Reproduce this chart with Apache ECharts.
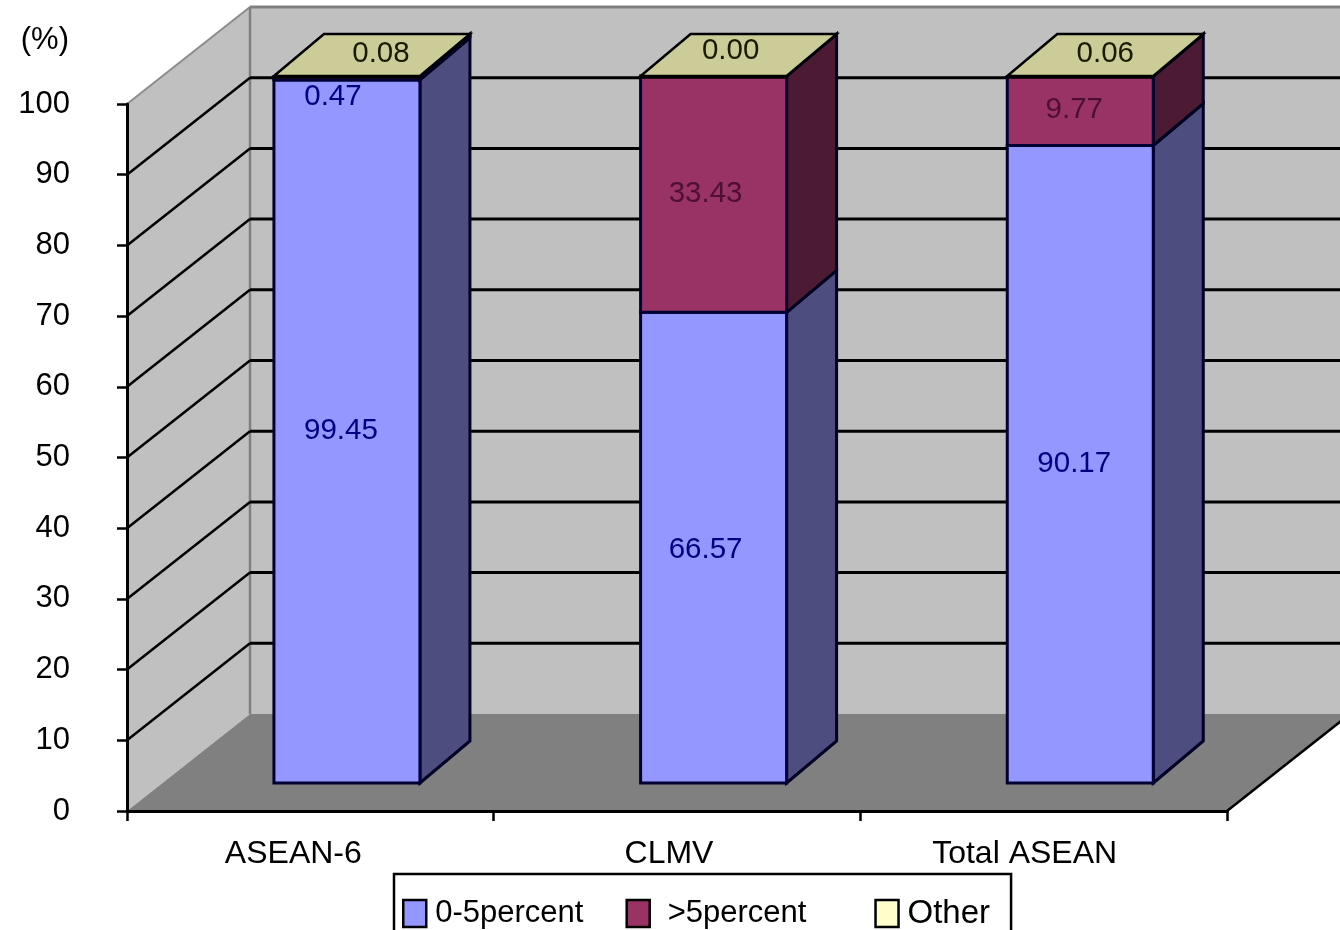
<!DOCTYPE html>
<html>
<head>
<meta charset="utf-8">
<style>html,body{margin:0;padding:0;background:#fff;overflow:hidden}#c{width:1340px;height:930px}</style>
<script src="https://cdn.jsdelivr.net/npm/echarts@6/dist/echarts.min.js"></script>
</head>
<body>
<div id="c"></div>
<script>
const categories = ['ASEAN-6', 'CLMV', 'Total ASEAN'];
const lowTariff = [99.45, 66.57, 90.17];
const highTariff = [0.47, 33.43, 9.77];
const otherTariff = [0.08, 0.00, 0.06];
const yTicks = [0, 10, 20, 30, 40, 50, 60, 70, 80, 90, 100];

const FONT = '"Liberation Sans", Arial, sans-serif';
const WALL = {dx: 123, dy: -97};
const BAR = {dx: 36.6, dy: -28, half: 73, sideX: 50, sideY: -42};
const LINE = '#000033';

const seriesDefs = [
  {name: '0-5percent', values: lowTariff, front: '#9397FF', side: '#4D4D80', text: '#000080', swatch: '#9397FF'},
  {name: '>5percent', values: highTariff, front: '#993366', side: '#4D1A33', text: '#4D0F33', swatch: '#993366'},
  {name: 'Other', values: otherTariff, front: '#CCCC99', side: '#4D1A33', text: '#1A1A00', swatch: '#FFFFCC'}
];
// label nudges [dx, dy] from the segment centre, by series then category
const nudges = [
  [[-6, -1], [-8, 2], [-6, 0]],
  [[-14, 19], [-8, 0], [-6, -1]],
  [[34, -1], [17, -4], [25, -1]]
];

function poly(points, fill, stroke, lw) {
  return {type: 'polygon', shape: {points}, style: {fill, stroke: stroke || null, lineWidth: lw || 0}};
}
function line(a, b, stroke, lw) {
  return {type: 'line', shape: {x1: a[0], y1: a[1], x2: b[0], y2: b[1]}, style: {stroke, lineWidth: lw}};
}

function renderWalls(params, api) {
  const cs = params.coordSys;
  const v = api.value(0);
  const y = api.coord([0, v])[1];
  const x0 = cs.x, x1 = cs.x + cs.width, yB = cs.y + cs.height, yT = cs.y;
  const children = [];
  if (v === yTicks[0]) {
    const bx = x0 + WALL.dx, bxR = x1 + WALL.dx;
    children.push(poly([[x0, yT], [bx, yT + WALL.dy], [bx, yB + WALL.dy], [x0, yB]], '#C0C0C0'));
    children.push(poly([[bx, yT + WALL.dy], [bxR, yT + WALL.dy], [bxR, yB + WALL.dy], [bx, yB + WALL.dy]], '#C0C0C0'));
    children.push(poly([[x0, yB], [x1, yB], [bxR, yB + WALL.dy], [bx, yB + WALL.dy]], '#808080'));
    children.push(line([x0, yT], [bx, yT + WALL.dy], '#8C8C8C', 2));
    children.push(line([bx, yT + WALL.dy], [bxR, yT + WALL.dy], '#808080', 3));
    children.push(line([bx, yT + WALL.dy], [bx, yB + WALL.dy], '#808080', 2.5));
    children.push(line([x1, yB], [bxR, yB + WALL.dy], '#000', 2.5));
  } else if (v !== yTicks[yTicks.length - 1]) {
    children.push(line([x0, y], [x0 + WALL.dx, y + WALL.dy], '#000', 2.5));
    children.push(line([x0 + WALL.dx, y + WALL.dy], [x1 + WALL.dx, y + WALL.dy], '#000', 3));
  }
  return {type: 'group', children};
}

function renderSegment(si) {
  return function (params, api) {
    const def = seriesDefs[si];
    const i = api.value(0), base = api.value(1), val = api.value(2);
    const c0 = api.coord([i, base]), c1 = api.coord([i, base + val]);
    const cx = c0[0] + BAR.dx;
    const xL = cx - BAR.half, xR = cx + BAR.half;
    const yB = c0[1] + BAR.dy, yT = c1[1] + BAR.dy;
    const sx = BAR.sideX, sy = BAR.sideY;
    const children = [];
    const isOther = si === 2;
    children.push(poly([[xR, yB], [xR + sx, yB + sy], [xR + sx, yT + sy], [xR, yT]], def.side, '#000022', 3));
    if (!isOther) children.push(poly([[xL, yB], [xR, yB], [xR, yT], [xL, yT]], def.front, LINE, 3));
    if (isOther) {
      children.push(poly([[xL, yT], [xR, yT], [xR + sx, yT + sy], [xL + sx, yT + sy]], def.front, '#000', 2.5));
      children.push(line([xL, yT + 1], [xR, yT + 1], '#000', 3.5));
    }
    const n = nudges[si][i];
    const lx = cx + n[0];
    const ly = isOther ? yT + n[1] + sy / 2 : (yB + yT) / 2 + n[1];
    // the thin ASEAN-6 ">5percent" label sits on the blue segment, so it takes the navy ink
    const fill = (si === 1 && val < 1) ? seriesDefs[0].text : def.text;
    children.push({
      type: 'text', z2: 20,
      style: {text: val.toFixed(2), x: lx, y: ly, fill, font: '29.5px ' + FONT, align: 'center', verticalAlign: 'middle'}
    });
    return {type: 'group', children};
  };
}

const segments = seriesDefs.map((def, si) => ({
  name: def.name,
  type: 'custom',
  coordinateSystem: 'cartesian2d',
  clip: false,
  z: 3 + si,
  itemStyle: {color: def.swatch},
  encode: {x: 0, y: 2},
  data: categories.map((_, i) => {
    let base = 0;
    for (let k = 0; k < si; k++) base += seriesDefs[k].values[i];
    return [i, base, def.values[i]];
  }),
  renderItem: renderSegment(si)
}));

const chart = echarts.init(document.getElementById('c'), null, {renderer: 'canvas'});
chart.setOption({
  animation: false,
  backgroundColor: '#fff',
  grid: {left: 127, right: 113, top: 104, bottom: 119, containLabel: false, outerBoundsMode: 'none'},
  legend: {
    left: 394, top: 874,
    orient: 'horizontal',
    backgroundColor: '#fff',
    borderColor: '#000', borderWidth: 2.5, borderRadius: 0,
    padding: [23, 21, 12, 8],
    itemWidth: 23, itemHeight: 27, itemGap: 42,
    itemStyle: {borderColor: '#000', borderWidth: 2.5},
    textStyle: {fontFamily: FONT, fontSize: 31, color: '#000'},
    icon: 'rect',
    formatter: name => name === '>5percent' ? name + '\u00A0\u00A0\u00A0' : name,
    data: [
      {name: '0-5percent', textStyle: {padding: [0, 0, 0, 4]}},
      {name: '>5percent', textStyle: {padding: [0, 0, 0, 13]}},
      {name: 'Other', textStyle: {padding: [0, 0, 0, 4], fontSize: 33}}
    ]
  },
  xAxis: {
    type: 'category',
    z: 6,
    data: [
      {value: categories[0], textStyle: {padding: [0, 34, 0, 0]}},
      {value: categories[1], textStyle: {padding: [0, 16, 0, 0]}},
      {value: categories[2], textStyle: {padding: [0, 38, 0, 0]}}
    ],
    axisLine: {lineStyle: {color: '#000', width: 3}},
    axisTick: {show: true, length: 10, lineStyle: {color: '#000', width: 2.5}, alignWithLabel: false},
    axisLabel: {margin: 27, fontFamily: FONT, fontSize: 32, color: '#000', interval: 0, hideOverlap: false},
    splitLine: {show: false}
  },
  yAxis: {
    type: 'value',
    z: 6,
    min: 0, max: 100, interval: 10,
    name: '(%)',
    nameLocation: 'end',
    nameGap: 48,
    nameTextStyle: {fontFamily: FONT, fontSize: 31, color: '#000', align: 'right', padding: [0, 58, 0, 0]},
    axisLine: {show: true, lineStyle: {color: '#000', width: 3}},
    axisTick: {show: true, length: 10, lineStyle: {color: '#000', width: 2.5}},
    axisLabel: {margin: 57, fontFamily: FONT, fontSize: 31, color: '#000'},
    splitLine: {show: false}
  },
  series: [
    {
      name: 'walls',
      type: 'custom',
      coordinateSystem: 'cartesian2d',
      clip: false,
      z: 1,
      silent: true,
      encode: {x: 1, y: 0},
      data: yTicks.map(t => [t, 0]),
      renderItem: renderWalls
    },
    ...segments
  ]
});
</script>
</body>
</html>
